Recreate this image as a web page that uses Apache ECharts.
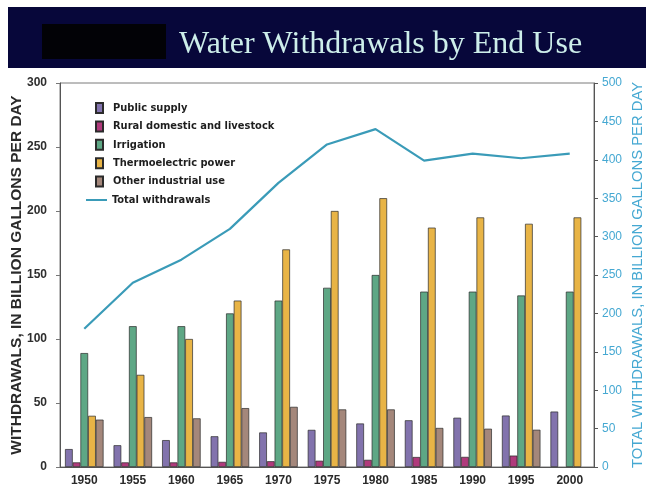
<!DOCTYPE html>
<html>
<head>
<meta charset="utf-8">
<script src="https://cdn.jsdelivr.net/npm/echarts@6/dist/echarts.min.js"></script>
<style>
  html, body { margin: 0; padding: 0; background: #ffffff; }
  #chart { width: 646px; height: 504px; }
</style>
</head>
<body>
<div id="chart"></div>
<script>
// Water withdrawals in the United States, billion gallons per day
const years = ['1950', '1955', '1960', '1965', '1970', '1975', '1980', '1985', '1990', '1995', '2000'];
const publicSupply   = [14, 17, 21, 24, 27, 29, 34, 36.5, 38.5, 40.2, 43.3];
const ruralDomestic  = [3.6, 3.6, 3.6, 4.0, 4.5, 4.9, 5.6, 7.8, 7.9, 8.9, null];
const irrigation     = [89, 110, 110, 120, 130, 140, 150, 137, 137, 134, 137];
const thermoelectric = [40, 72, 100, 130, 170, 200, 210, 187, 195, 190, 195];
const otherIndustry  = [37, 39, 38, 46, 47, 45, 45, 30.5, 29.9, 29.1, null];
const totalWithdrawn = [180, 240, 270, 310, 370, 420, 440, 399, 408, 402, 408];

const leftTicks  = [0, 50, 100, 150, 200, 250, 300];
const rightTicks = [0, 50, 100, 150, 200, 250, 300, 350, 400, 450, 500];

const barNames  = ['Public supply', 'Rural domestic and livestock', 'Irrigation', 'Thermoelectric power', 'Other industrial use'];
const barData   = [publicSupply, ruralDomestic, irrigation, thermoelectric, otherIndustry];
const barColors = ['#8273ad', '#b03a7c', '#5ea785', '#e8b446', '#a4877b'];
const lineName  = 'Total withdrawals';
const lineColor = '#3a9bb8';
const rightColor = '#45a8d2';

const chart = echarts.init(document.getElementById('chart'), null, { renderer: 'canvas' });

const barSeries = barNames.map((name, i) => ({
  name: name,
  type: 'bar',
  yAxisIndex: 0,
  data: barData[i],
  barWidth: 7.7,
  barGap: '0%',
  itemStyle: { color: barColors[i], borderColor: '#2b2b2b', borderWidth: 0.7 },
  emphasis: { disabled: true }
}));

const legendText = {
  fontFamily: '"DejaVu Sans Condensed", "Liberation Sans Narrow", sans-serif',
  fontWeight: 'bold',
  fontSize: 11,
  color: '#1e1e1e',
  lineHeight: 12
};

chart.setOption({
  animation: false,
  backgroundColor: '#ffffff',
  title: {
    text: 'Water Withdrawals by End Use',
    left: 174,
    top: 24,
    textStyle: {
      fontFamily: '"Liberation Serif", "DejaVu Serif", serif',
      fontWeight: 'normal',
      fontSize: 32,
      color: '#cdeeea'
    }
  },
  graphic: [
    { type: 'rect', silent: true, z: -1, shape: { x: 8, y: 7, width: 640, height: 61 }, style: { fill: '#07073a' } },
    { type: 'rect', silent: true, z: 0, shape: { x: 42, y: 24, width: 124, height: 35 }, style: { fill: '#020206' } }
  ],
  legend: [
    {
      data: barNames,
      orient: 'vertical',
      left: 90,
      top: 97,
      itemWidth: 7,
      itemHeight: 10,
      itemGap: 6.4,
      icon: 'rect',
      textStyle: Object.assign({ padding: [0, 0, 0, 5] }, legendText),
      selectedMode: false
    },
    {
      data: [lineName],
      orient: 'vertical',
      left: 81,
      top: 189,
      itemWidth: 21,
      itemHeight: 2,
      icon: 'rect',
      textStyle: legendText,
      selectedMode: false
    }
  ],
  grid: {
    left: 60,
    right: 52,
    top: 83,
    bottom: 37,
    outerBoundsMode: 'none',
    containLabel: false,
    show: true,
    borderColor: '#7a7a7a',
    borderWidth: 1,
    backgroundColor: '#ffffff'
  },
  xAxis: {
    type: 'category',
    data: years,
    boundaryGap: true,
    axisLine: { lineStyle: { color: '#555555', width: 1 } },
    axisTick: { show: false },
    axisLabel: {
      margin: 8,
      fontFamily: '"Liberation Sans", Arial, sans-serif',
      fontWeight: 'bold',
      fontSize: 12,
      color: '#2a2a2a'
    }
  },
  yAxis: [
    {
      type: 'value',
      min: 0,
      max: leftTicks[leftTicks.length - 1],
      interval: 50,
      position: 'left',
      name: 'WITHDRAWALS, IN BILLION GALLONS PER DAY',
      nameLocation: 'middle',
      nameGap: 35,
      nameRotate: 90,
      nameMoveOverlap: false,
      nameTextStyle: {
        fontFamily: '"Liberation Sans", Arial, sans-serif',
        fontWeight: 'bold',
        fontSize: 15.5,
        color: '#2a2a2a'
      },
      axisLine: { show: true, lineStyle: { color: '#555555', width: 1 } },
      axisTick: { show: true, length: 4, lineStyle: { color: '#777777' } },
      splitLine: { show: false },
      axisLabel: {
        margin: 13,
        fontFamily: '"Liberation Sans", Arial, sans-serif',
        fontWeight: 'bold',
        fontSize: 12,
        color: '#2e2e2e'
      }
    },
    {
      type: 'value',
      min: 0,
      max: rightTicks[rightTicks.length - 1],
      interval: 50,
      position: 'right',
      name: 'TOTAL WITHDRAWALS, IN BILLION GALLONS PER DAY',
      nameLocation: 'middle',
      nameGap: 36,
      nameRotate: 90,
      nameMoveOverlap: false,
      nameTextStyle: {
        fontFamily: '"Liberation Sans", Arial, sans-serif',
        fontSize: 14.8,
        color: rightColor
      },
      axisLine: { show: true, lineStyle: { color: '#555555', width: 1 } },
      axisTick: { show: true, length: 4, lineStyle: { color: '#555555' } },
      splitLine: { show: false },
      axisLabel: {
        margin: 8,
        fontFamily: '"Liberation Sans", Arial, sans-serif',
        fontSize: 12,
        color: rightColor
      }
    }
  ],
  series: barSeries.concat([{
    name: lineName,
    type: 'line',
    yAxisIndex: 1,
    data: totalWithdrawn,
    symbol: 'none',
    smooth: false,
    lineStyle: { color: lineColor, width: 2.2 },
    itemStyle: { color: lineColor },
    z: 5,
    emphasis: { disabled: true }
  }])
});
</script>
</body>
</html>
